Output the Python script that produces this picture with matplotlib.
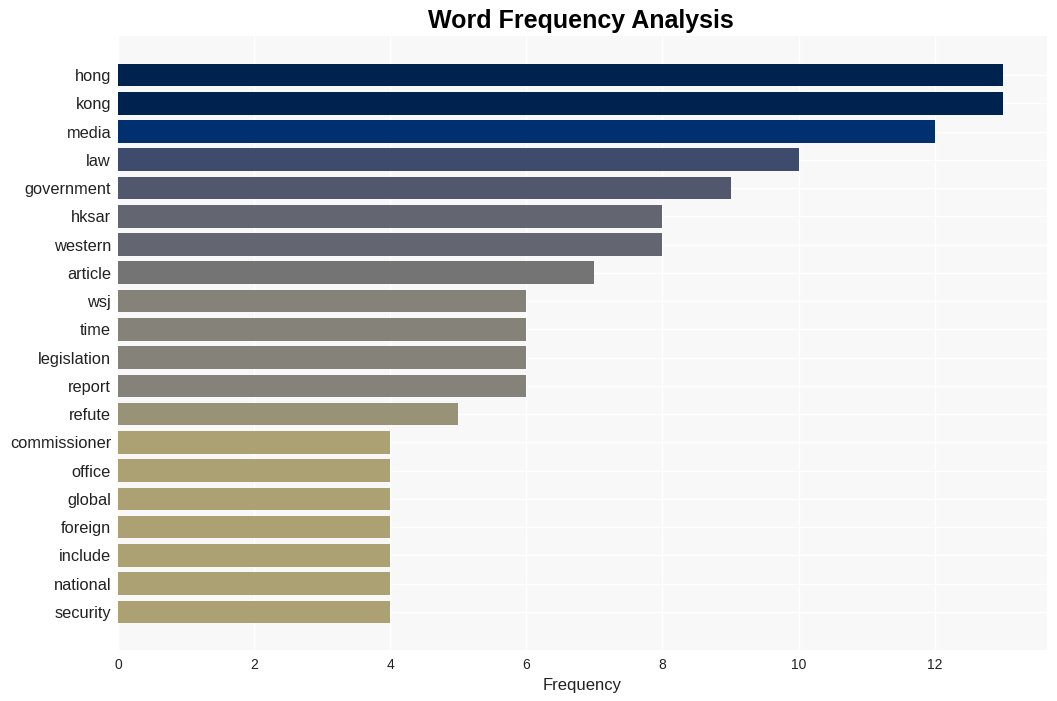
import matplotlib
matplotlib.use("Agg")
import matplotlib.pyplot as plt
import numpy as np

words = ["hong", "kong", "media", "law", "government", "hksar", "western", "article",
         "wsj", "time", "legislation", "report", "refute", "commissioner", "office",
         "global", "foreign", "include", "national", "security"]
counts = [13, 13, 12, 10, 9, 8, 8, 7, 6, 6, 6, 6, 5, 4, 4, 4, 4, 4, 4, 4]
xticks = [0, 2, 4, 6, 8, 10, 12]

plt.rcParams['font.family'] = ['Liberation Sans', 'DejaVu Sans']

fig = plt.figure(figsize=(10.57, 7.01), dpi=100)
ax = fig.add_axes([118/1057, 1-650/701, (1047-118)/1057, (650-36)/701])
ax.set_facecolor('#f8f8f8')

cmap = plt.get_cmap('cividis')
vmax = max(counts)
colors = [cmap(1 - c / vmax) for c in counts]
y = np.arange(len(words))
ax.barh(y, counts, height=0.8, color=colors, zorder=3)

ax.set_yticks(y)
ax.set_yticklabels(words, fontsize=11.8, color='#222222')
ax.set_xticks(xticks)
ax.set_xticklabels([str(t) for t in xticks], fontsize=10, color='#222222')
ax.set_xlim(0, vmax * 1.05)
ax.set_ylim(len(words) - 1 + 1.35, -1.38)
ax.tick_params(axis='y', length=0, pad=5)
ax.tick_params(axis='x', length=0, pad=6)
ax.grid(True, color='white', linewidth=1, zorder=0)
ax.set_axisbelow(True)
for s in ax.spines.values():
    s.set_visible(False)
ax.set_xlabel("Frequency", fontsize=12, color='#222222', labelpad=4)
fig.text(0.55, 0.97, "Word Frequency Analysis", fontsize=18, fontweight='bold',
         ha='center', va='center')
fig.savefig("out.png", dpi=100)
